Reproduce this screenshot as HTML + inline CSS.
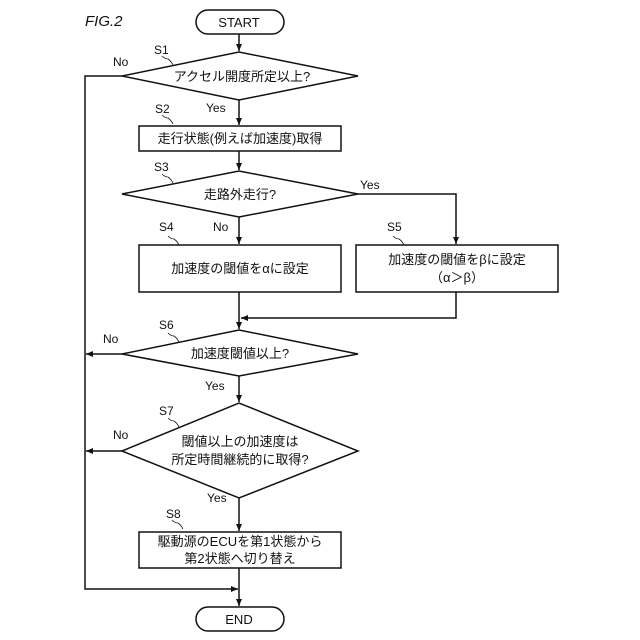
<!DOCTYPE html>
<html><head><meta charset="utf-8"><style>body{margin:0;background:#fff}svg{display:block}text{font-family:"Liberation Sans","Noto Sans CJK JP",sans-serif;fill:#111}</style></head><body>
<svg width="640" height="640" viewBox="0 0 640 640" xmlns="http://www.w3.org/2000/svg">
<defs><marker id="a" markerWidth="8" markerHeight="8" refX="7" refY="4" orient="auto" markerUnits="userSpaceOnUse"><path d="M0,1 L7,4 L0,7 z" fill="#111"/></marker></defs>
<g stroke="#111" stroke-width="1.5" fill="none">
<rect x="196" y="10" width="88" height="24" rx="12"/>
<rect x="196" y="607" width="88" height="24" rx="12"/>
<polygon points="122,76 239,52 358,76 239,100"/>
<rect x="139" y="126" width="202" height="25"/>
<polygon points="122,194 239,171 358,194 239,217"/>
<rect x="139" y="245" width="202" height="47"/>
<rect x="356" y="245" width="202" height="47"/>
<polygon points="122,354 239,330 358,354 239,376"/>
<polygon points="122,451 239,403 358,451 239,498"/>
<rect x="139" y="532" width="202" height="36"/>
<line x1="239" y1="34" x2="239" y2="51" marker-end="url(#a)"/>
<line x1="239" y1="100" x2="239" y2="125" marker-end="url(#a)"/>
<line x1="239" y1="151" x2="239" y2="170" marker-end="url(#a)"/>
<line x1="239" y1="217" x2="239" y2="244" marker-end="url(#a)"/>
<polyline points="358,194 456,194 456,244" marker-end="url(#a)"/>
<line x1="239" y1="292" x2="239" y2="329" marker-end="url(#a)"/>
<polyline points="456,292 456,318 241,318" marker-end="url(#a)"/>
<line x1="239" y1="376" x2="239" y2="402" marker-end="url(#a)"/>
<line x1="239" y1="498" x2="239" y2="531" marker-end="url(#a)"/>
<line x1="239" y1="568" x2="239" y2="606" marker-end="url(#a)"/>
<polyline points="122,76 85,76 85,589 238,589" marker-end="url(#a)"/>
<line x1="122" y1="354" x2="86" y2="354" marker-end="url(#a)"/>
<line x1="122" y1="451" x2="86" y2="451" marker-end="url(#a)"/>
</g>
<g stroke="#111" stroke-width="0.8" fill="none">
<path d="M162,56 q3,3 6,3 q3,2 5,6"/><path d="M162,115 q3,3 6,3 q3,2 5,6"/><path d="M162,174 q3,3 6,3 q3,2 5,6"/>
<path d="M168,236 q3,3 6,3 q3,2 5,6"/><path d="M393,236 q3,3 6,3 q3,2 5,6"/><path d="M168,333 q3,3 6,3 q3,2 5,6"/>
<path d="M168,418 q3,3 6,3 q3,2 5,6"/><path d="M172,520 q3,3 6,3 q3,2 5,6"/>
</g>
<text x="85" y="26" font-size="15" font-style="italic">FIG.2</text>
<g font-size="13" text-anchor="middle">
<text x="239" y="27">START</text><text x="239" y="624">END</text>
<text x="242" y="81">アクセル開度所定以上?</text>
<text x="240" y="143">走行状態(例えば加速度)取得</text>
<text x="240" y="199">走路外走行?</text>
<text x="240" y="273">加速度の閾値をαに設定</text>
<text x="457" y="264">加速度の閾値をβに設定</text>
<text x="457" y="282">（α＞β）</text>
<text x="240" y="358">加速度閾値以上?</text>
<text x="240" y="446">閾値以上の加速度は</text>
<text x="240" y="464">所定時間継続的に取得?</text>
<text x="240" y="546">駆動源のECUを第1状態から</text>
<text x="240" y="563">第2状態へ切り替え</text>
</g>
<g font-size="12">
<text x="154" y="54">S1</text><text x="113" y="66">No</text>
<text x="155" y="113">S2</text><text x="206" y="112">Yes</text>
<text x="154" y="171">S3</text><text x="360" y="189">Yes</text>
<text x="159" y="231">S4</text><text x="213" y="231">No</text><text x="387" y="231">S5</text>
<text x="159" y="329">S6</text><text x="103" y="343">No</text><text x="205" y="390">Yes</text>
<text x="159" y="415">S7</text><text x="113" y="439">No</text><text x="207" y="502">Yes</text>
<text x="166" y="518">S8</text>
</g>
</svg>
</body></html>
